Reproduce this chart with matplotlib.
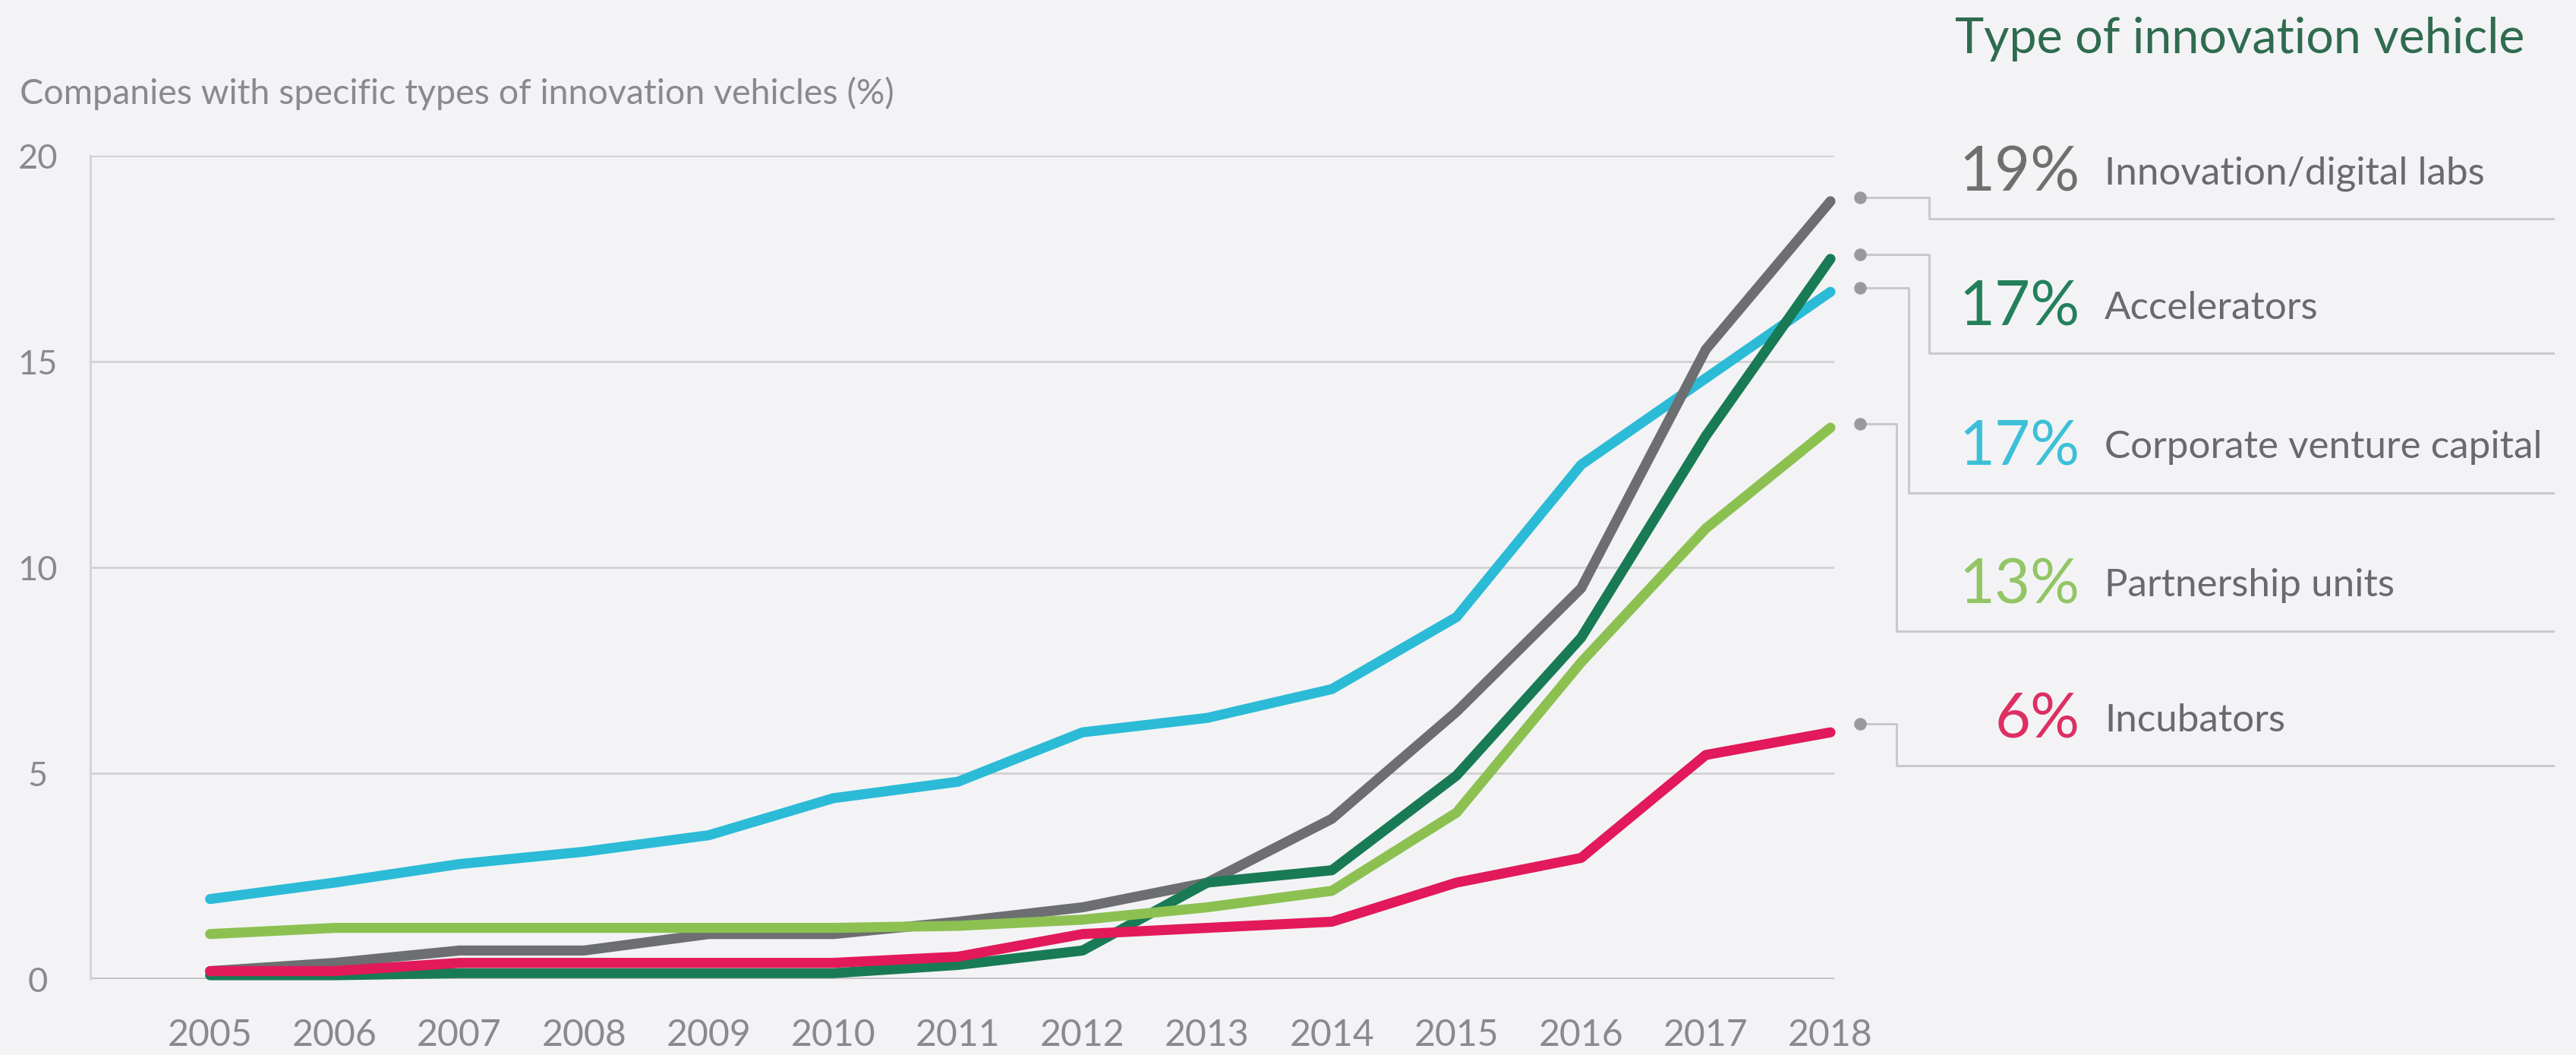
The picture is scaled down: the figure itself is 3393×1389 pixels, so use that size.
import matplotlib.pyplot as plt
import numpy as np

# data
years = list(range(2005, 2019))
labs = [0.2, 0.4, 0.7, 0.7, 1.1, 1.1, 1.4, 1.75, 2.35, 3.9, 6.5, 9.5, 15.3, 18.9]
accelerators = [0.1, 0.1, 0.15, 0.15, 0.15, 0.15, 0.35, 0.7, 2.35, 2.65, 4.95, 8.3, 13.2, 17.5]
cvc = [1.95, 2.35, 2.8, 3.1, 3.5, 4.4, 4.8, 6.0, 6.35, 7.05, 8.8, 12.5, 14.6, 16.7]
partnership = [1.1, 1.25, 1.25, 1.25, 1.25, 1.25, 1.3, 1.45, 1.75, 2.15, 4.05, 7.7, 10.95, 13.4]
incubators = [0.2, 0.2, 0.4, 0.4, 0.4, 0.4, 0.55, 1.1, 1.25, 1.4, 2.35, 2.95, 5.45, 6.0]

names = ["Innovation/digital labs", "Accelerators", "Corporate venture capital",
         "Partnership units", "Incubators"]
shares = ["19%", "17%", "17%", "13%", "6%"]
series = [labs, accelerators, cvc, partnership, incubators]
colors = ["#6d6e71", "#197a56", "#2bbbd7", "#8cc152", "#e2195a"]
pct_colors = ["#6f6f6f", "#23805b", "#3cc0d8", "#93c565", "#dc2f62"]

# annotation layout (data coords, x beyond 2018)
elbow_x = [2018.79, 2018.79, 2018.63, 2018.53, 2018.53]
underline_y = [18.48, 15.21, 11.82, 8.46, 5.19]
dot_y = [19.0, 17.6, 16.8, 13.5, 6.2]

BG = "#f3f3f5"
TXT = "#8a8a8c"
FONT = "Lato"

plt.rcParams["font.family"] = [FONT, "DejaVu Sans"]

fig = plt.figure(figsize=(15.68, 6.42), dpi=216.4, facecolor=BG)
ax = fig.add_axes([0.0351, 0.0717, 0.712 - 0.0351, 0.852 - 0.0717])
ax.set_facecolor(BG)

ax.set_xlim(2004.04, 2018.03)
ax.set_ylim(0, 20)

for s in ["top", "right", "bottom"]:
    ax.spines[s].set_visible(False)
ax.spines["left"].set_color("#d2d2d4")
ax.spines["left"].set_linewidth(0.9)

ax.set_yticks([0, 5, 10, 15, 20])
ax.grid(axis="y", color="#d0d0d2", linewidth=0.9)
ax.axhline(0, color="#c2c2c4", linewidth=1.6, zorder=1)
ax.set_axisbelow(True)
ax.tick_params(axis="y", length=0, pad=23, labelsize=15, labelcolor=TXT)
for lab in ax.get_yticklabels():
    lab.set_horizontalalignment("center")

ax.set_xticks(years)
ax.tick_params(axis="x", length=0, pad=17, labelsize=16, labelcolor=TXT)

# draw order so the lower lines sit on top as in the original
order = [2, 0, 1, 3, 4]
for i in order:
    ax.plot(years, series[i], color=colors[i], linewidth=4.4,
            solid_capstyle="round", solid_joinstyle="round",
            clip_on=False, zorder=3)

# right-hand legend with connectors
line_c = "#c9c9cb"
for i in range(len(names)):
    ax.plot([2018.24], [dot_y[i]], "o", color="#9a9a9c", markersize=4.5,
            clip_on=False, zorder=4)
    ax.plot([2018.24, elbow_x[i], elbow_x[i], 2023.8],
            [dot_y[i], dot_y[i], underline_y[i], underline_y[i]],
            color=line_c, linewidth=1.0, clip_on=False, zorder=2)
    ty = underline_y[i] + 1.1
    ax.text(2020.0, ty, shares[i], color=pct_colors[i], fontsize=27,
            ha="right", va="center", clip_on=False)
    ax.text(2020.2, ty, names[i], color="#6a6a6c", fontsize=17,
            ha="left", va="center", clip_on=False)

fig.text(1190 / 1568, 1 - 24 / 642, "Type of innovation vehicle",
         color="#2f6b4f", fontsize=21.5, ha="left", va="center")
fig.text(12 / 1568, 1 - 57 / 642,
         "Companies with specific types of innovation vehicles (%)",
         color=TXT, fontsize=15.5, ha="left", va="center")

fig.savefig("out.png", dpi=216.4, facecolor=BG)
